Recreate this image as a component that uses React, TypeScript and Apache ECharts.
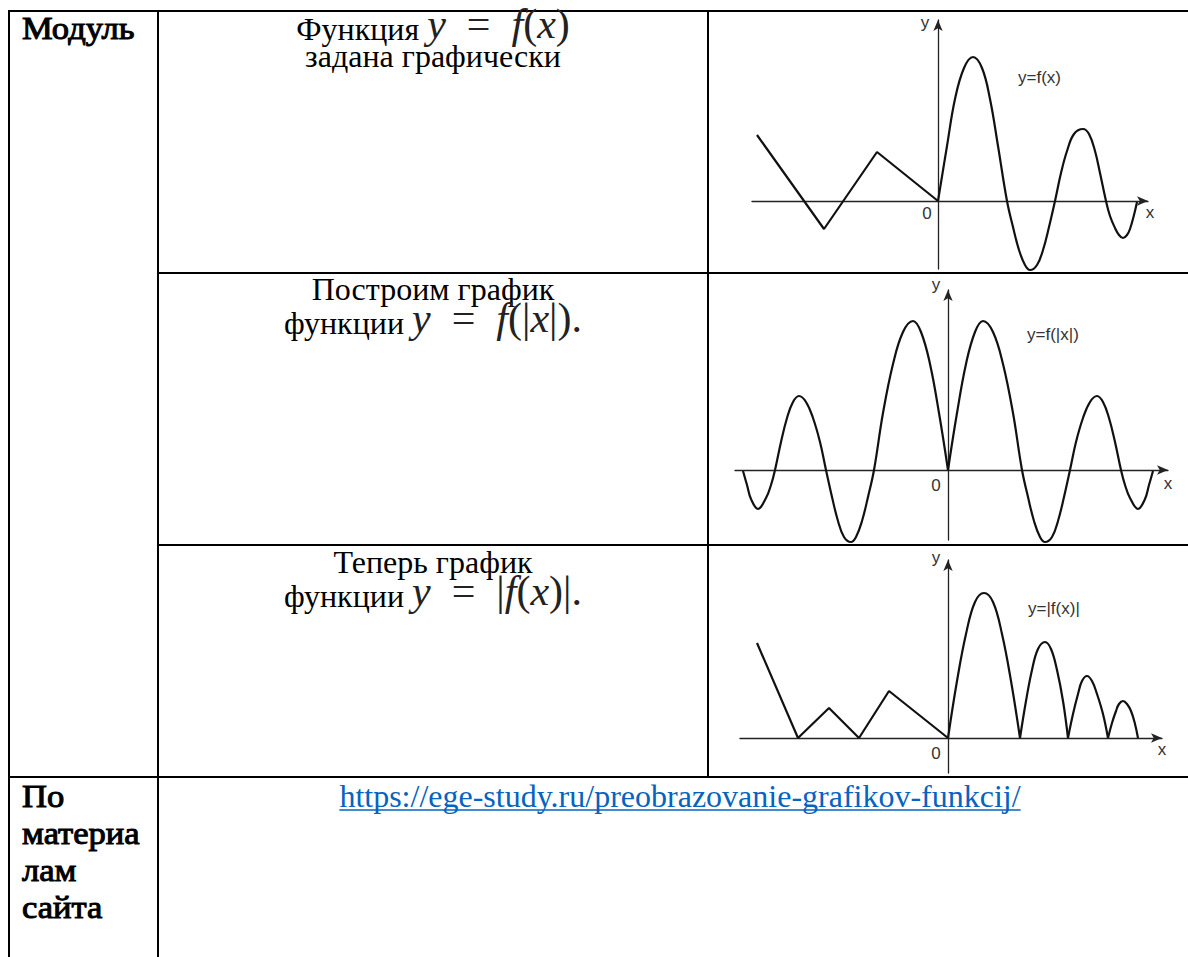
import React, { useEffect, useRef } from "react";
import * as echarts from "echarts";

// y = f(x): broken line for x < 0, waves for x > 0 (one unit = 10 px)
const fBroken: number[][] = [[-18.1, 6.6], [-11.4, -2.8], [-6.1, 4.9], [0, 0]];
const fWave: number[][] = [
  [0, 0], [0.9, 5.5], [1.7, 10.2], [2.6, 13.3], [3.5, 14.4], [4.4, 13.3], [5.2, 10.2], [6.0, 5.5], [6.9, 0],
  [7.5, -2.6], [8.1, -4.9], [8.7, -6.4], [9.2, -6.9], [9.9, -6.4], [10.5, -4.9], [11.1, -2.6], [11.7, 0],
  [12.3, 2.8], [12.9, 5.0], [13.6, 6.7], [14.5, 7.2], [15.1, 6.7], [15.7, 5.0], [16.2, 2.8], [16.8, 0],
  [17.2, -1.5], [17.7, -2.7], [18.1, -3.4], [18.5, -3.7], [18.9, -3.4], [19.2, -2.8], [19.6, -1.4], [19.9, -0.1],
];

// y = f(|x|): right half, mirrored onto x < 0
const gWave: number[][] = [
  [0, 0], [0.9, 5.7], [1.8, 10.6], [2.7, 13.8], [3.5, 14.9], [4.5, 13.8], [5.5, 10.6], [6.5, 5.7], [7.4, 0],
  [8.0, -2.7], [8.6, -5.1], [9.2, -6.7], [9.7, -7.2], [10.4, -6.7], [11.0, -5.1], [11.6, -2.7], [12.2, 0],
  [12.8, 2.8], [13.5, 5.2], [14.2, 6.8], [14.9, 7.4], [15.5, 6.8], [16.1, 5.2], [16.7, 2.8], [17.3, 0],
  [17.7, -1.5], [18.2, -2.8], [19.0, -3.9], [19.7, -2.9], [20.1, -1.5], [20.5, -0.1],
];

// y = |f(x)|
const hBroken: number[][] = [[-19.1, 9.5], [-15.0, 0], [-11.9, 3.0], [-8.9, 0], [-5.9, 4.7], [0, 0]];
const hWave: number[][] = [
  [0, 0], [0.9, 5.7], [1.8, 10.4], [2.7, 13.6], [3.6, 14.5], [4.5, 13.6], [5.4, 10.4], [6.3, 5.7], [7.2, 0],
  [7.8, 3.7], [8.4, 6.8], [9.0, 8.9], [9.7, 9.6], [10.3, 8.9], [10.9, 6.8], [11.5, 3.7], [12.0, 0],
  [12.5, 2.4], [13.0, 4.4], [13.4, 5.7], [13.9, 6.2], [14.4, 5.7], [14.9, 4.4], [15.5, 2.4], [16.0, 0],
  [16.4, 1.5], [16.8, 2.7], [17.1, 3.4], [17.5, 3.7], [17.9, 3.4], [18.3, 2.7], [18.7, 1.4], [19.0, 0],
];

// texts
const header = "Модуль";
const sourceLabel = ["По", "материа", "лам", "сайта"];
const sourceUrl = "https://ege-study.ru/preobrazovanie-grafikov-funkcij/";
const curveNames = ["y=f(x)", "y=f(|x|)", "y=|f(x)|"];
const mathF = [["i", "y"], ["n", "\u2002=\u2002"], ["i", "f"], ["n", "("], ["i", "x"], ["n", ")"]];
const mathFabsX = [["i", "y"], ["n", "\u2002=\u2002"], ["i", "f"], ["n", "(|"], ["i", "x"], ["n", "|)."]];
const mathAbsF = [["i", "y"], ["n", "\u2002=\u2002|"], ["i", "f"], ["n", "("], ["i", "x"], ["n", ")|."]];

const SERIF = "Liberation Serif, Times New Roman, serif";
const SANS = "Liberation Sans, Arial, sans-serif";
const FS = 32;
const MATH_FS = 42;
const PX = 10;
const LINK = "#0563C1";

const plots = [
  { ox: 938, oy: 201, x: [-18.6, 21.0], y: [-6.8, 18.1] },
  { ox: 948, oy: 470, x: [-21.3, 22.0], y: [-7.0, 18.0] },
  { ox: 948, oy: 738, x: [-20.8, 21.4], y: [-3.5, 17.8] },
];

const rich = {
  t: { fontFamily: SERIF, fontSize: FS, fill: "#000", verticalAlign: "bottom" },
  // heavy serif face: regular outline thickened by a same-colour stroke
  b: { fontFamily: SERIF, fontSize: FS, fill: "#000", stroke: "#000", lineWidth: 1.0, verticalAlign: "bottom" },
  i: { fontFamily: SERIF, fontSize: MATH_FS, fontStyle: "italic", fill: "#222", verticalAlign: "bottom" },
  n: { fontFamily: SERIF, fontSize: MATH_FS, fill: "#222", verticalAlign: "bottom" },
  u: { fontFamily: SERIF, fontSize: FS, fill: LINK, verticalAlign: "bottom" },
};

const tok = (list: string[][]) => list.map(([s, t]) => `{${s}|${t}}`).join("");

function splitAtZeros(pts: number[][]) {
  const segs: number[][][] = [];
  let cur: number[][] = [pts[0]];
  for (let k = 1; k < pts.length; k++) {
    cur.push(pts[k]);
    if (pts[k][1] === 0 && k < pts.length - 1) {
      segs.push(cur);
      cur = [pts[k]];
    }
  }
  segs.push(cur);
  return segs;
}

function measure(text: string, font: string) {
  const ctx = document.createElement("canvas").getContext("2d")!;
  ctx.font = font;
  return ctx.measureText(text).width;
}

// rich text line whose baseline sits at b
function textLine(x: number, b: number, text: string, align: string, scaleX = 1) {
  return {
    type: "text",
    x,
    y: b + 0.16 * FS,
    scaleX,
    silent: true,
    style: { text, rich, align, verticalAlign: "bottom", fontFamily: SERIF, fontSize: FS },
  };
}

function label(x: number, y: number, text: string, align = "center") {
  return {
    type: "text",
    x,
    y,
    silent: true,
    style: { text, fontFamily: SANS, fontSize: 17, fill: "#333", align, verticalAlign: "middle" },
  };
}

function hline(y: number, x1: number, x2: number) {
  return { type: "line", silent: true, shape: { x1, y1: y, x2, y2: y }, style: { stroke: "#000", lineWidth: 2 } };
}
function vline(x: number, y1: number, y2: number) {
  return { type: "line", silent: true, shape: { x1: x, y1, x2: x, y2 }, style: { stroke: "#000", lineWidth: 2 } };
}

function buildOption() {
  const axisCommon = {
    type: "value",
    axisLine: {
      onZero: true,
      symbol: ["none", "arrow"],
      symbolSize: [7, 11],
      lineStyle: { color: "#222", width: 1.3 },
    },
    axisTick: { show: false },
    axisLabel: { show: false },
    splitLine: { show: false },
  };
  const curveStyle = { color: "#111", width: 2.2 };
  const curve = (i: number, data: number[][], smooth: number | boolean) => ({
    type: "line",
    xAxisIndex: i,
    yAxisIndex: i,
    data,
    smooth,
    symbol: "none",
    showSymbol: false,
    clip: false,
    silent: true,
    lineStyle: curveStyle,
  });

  const series: any[] = [
    curve(0, fBroken, false),
    curve(0, fWave, 0.4),
    curve(1, gWave, 0.4),
    curve(1, gWave.map(([x, y]) => [-x, y]), 0.4),
    curve(2, hBroken, false),
    ...splitAtZeros(hWave).map((seg) => curve(2, seg, 0.4)),
  ];

  const urlFont = `${FS}px ${SERIF}`;
  const urlW = measure(sourceUrl, urlFont);
  const urlCx = 680;
  const urlB = 807;

  const graphic: any[] = [
    // table rules
    hline(11, 8, 1188),
    hline(273, 158, 1188),
    hline(545, 158, 1188),
    hline(777, 8, 1188),
    vline(9, 10, 957),
    vline(158, 10, 957),
    vline(708, 10, 778),
    // first column
    textLine(22, 39, `{b|${header}}`, "left", 1.08),
    ...sourceLabel.map((s, k) => textLine(22, 807 + k * 37, `{b|${s}}`, "left", 1.08)),
    // middle column
    textLine(433, 40, `{t|Функция }${tok(mathF)}`, "center"),
    textLine(433, 67, `{t|задана графически}`, "center"),
    textLine(433, 300, `{t|Построим график}`, "center"),
    textLine(433, 334, `{t|функции }${tok(mathFabsX)}`, "center"),
    textLine(433, 573, `{t|Теперь график}`, "center"),
    textLine(433, 607, `{t|функции }${tok(mathAbsF)}`, "center"),
    // link
    textLine(urlCx, urlB, `{u|${sourceUrl}}`, "center"),
    {
      type: "line",
      silent: true,
      shape: { x1: urlCx - urlW / 2, y1: urlB + 3, x2: urlCx + urlW / 2, y2: urlB + 3 },
      style: { stroke: LINK, lineWidth: 1.5 },
    },
    // plot annotations
    label(925, 22, "y"), label(927, 213, "0"), label(1150, 212, "x"), label(1018, 77, curveNames[0], "left"),
    label(936, 284, "y"), label(936, 485, "0"), label(1168, 483, "x"), label(1027, 334, curveNames[1], "left"),
    label(936, 557, "y"), label(936, 753, "0"), label(1162, 749, "x"), label(1028, 608, curveNames[2], "left"),
  ];

  return {
    animation: false,
    backgroundColor: "#fff",
    grid: plots.map((p) => ({
      left: p.ox + p.x[0] * PX,
      top: p.oy - p.y[1] * PX,
      width: (p.x[1] - p.x[0]) * PX,
      height: (p.y[1] - p.y[0]) * PX,
    })),
    xAxis: plots.map((p, i) => ({ ...axisCommon, gridIndex: i, min: p.x[0], max: p.x[1] })),
    yAxis: plots.map((p, i) => ({ ...axisCommon, gridIndex: i, min: p.y[0], max: p.y[1] })),
    series,
    graphic,
  };
}

export default function App() {
  const ref = useRef<HTMLDivElement>(null);
  useEffect(() => {
    const chart = echarts.init(ref.current!, undefined, { renderer: "svg" });
    chart.setOption(buildOption() as any);
    return () => chart.dispose();
  }, []);
  return (
    <div
      ref={ref}
      style={{ position: "absolute", left: 0, top: 0, width: 1188, height: 957, background: "#fff" }}
    />
  );
}
